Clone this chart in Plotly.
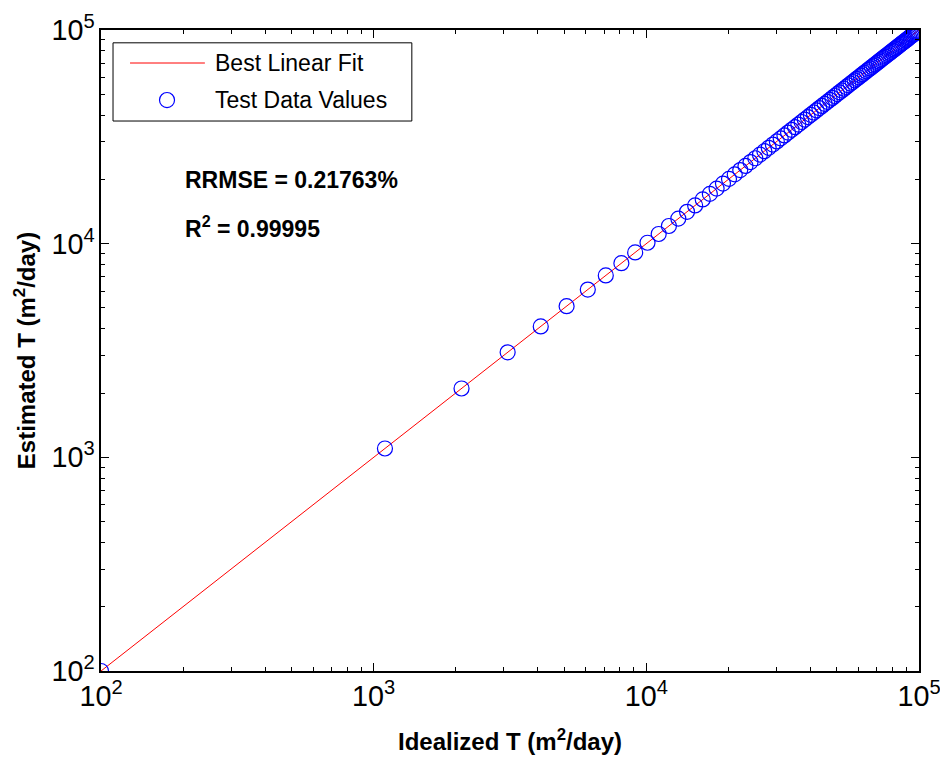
import plotly.graph_objects as go

# Idealized vs. estimated transmissivity (m^2/day)
idealized_T = [
    100, 1100, 2100, 3100, 4100, 5100, 6100, 7100, 8100, 9100,
    10100, 11100, 12100, 13100, 14100, 15100, 16100, 17100, 18100, 19100,
    20100, 21100, 22100, 23100, 24100, 25100, 26100, 27100, 28100, 29100,
    30100, 31100, 32100, 33100, 34100, 35100, 36100, 37100, 38100, 39100,
    40100, 41100, 42100, 43100, 44100, 45100, 46100, 47100, 48100, 49100,
    50100, 51100, 52100, 53100, 54100, 55100, 56100, 57100, 58100, 59100,
    60100, 61100, 62100, 63100, 64100, 65100, 66100, 67100, 68100, 69100,
    70100, 71100, 72100, 73100, 74100, 75100, 76100, 77100, 78100, 79100,
    80100, 81100, 82100, 83100, 84100, 85100, 86100, 87100, 88100, 89100,
    90100, 91100, 92100, 93100, 94100, 95100, 96100, 97100, 98100, 99100,
]
estimated_T = [
    100, 1100, 2100, 3100, 4100, 5100, 6100, 7100, 8100, 9100,
    10100, 11100, 12100, 13100, 14100, 15100, 16100, 17100, 18100, 19100,
    20100, 21100, 22100, 23100, 24100, 25100, 26100, 27100, 28100, 29100,
    30100, 31100, 32100, 33100, 34100, 35100, 36100, 37100, 38100, 39100,
    40100, 41100, 42100, 43100, 44100, 45100, 46100, 47100, 48100, 49100,
    50100, 51100, 52100, 53100, 54100, 55100, 56100, 57100, 58100, 59100,
    60100, 61100, 62100, 63100, 64100, 65100, 66100, 67100, 68100, 69100,
    70100, 71100, 72100, 73100, 74100, 75100, 76100, 77100, 78100, 79100,
    80100, 81100, 82100, 83100, 84100, 85100, 86100, 87100, 88100, 89100,
    90100, 91100, 92100, 93100, 94100, 95100, 96100, 97100, 98100, 99100,
]

# End points of the fitted line
fit_x = [100, 100000]
fit_y = [100, 100000]

legend_labels = ["Best Linear Fit", "Test Data Values"]
rrmse_text = "RRMSE = 0.21763%"
r2_text = "R<sup>2</sup> = 0.99995"

FONT = "Liberation Sans, Arial, sans-serif"
RED = "rgb(255,0,0)"
BLUE = "rgb(0,0,255)"

fig = go.Figure()
fig.add_trace(go.Scatter(
    x=fit_x, y=fit_y, mode="lines", name=legend_labels[0],
    line=dict(color=RED, width=1), showlegend=False,
))
fig.add_trace(go.Scatter(
    x=idealized_T, y=estimated_T, mode="markers", name=legend_labels[1],
    marker=dict(symbol="circle-open", size=15, color=BLUE,
                line=dict(width=1.2, color=BLUE)),
    showlegend=False,
))

axis_common = dict(
    type="log",
    range=[2, 5],
    dtick=1,
    exponentformat="power",
    showexponent="all",
    showgrid=False,
    zeroline=False,
    showline=True,
    linecolor="black",
    linewidth=1.5,
    mirror="allticks",
    ticks="inside",
    ticklen=8,
    tickwidth=1,
    tickcolor="black",
    automargin=False,
    ticklabeloverflow="allow",
    tickfont=dict(family=FONT, size=23, color="black"),
    minor=dict(ticks="inside", ticklen=4, tickwidth=1, tickcolor="black", showgrid=False),
)

fig.update_xaxes(
    **axis_common,
    title=dict(text="<b>Idealized T (m<sup>2</sup>/day)</b>",
               font=dict(family=FONT, size=24, color="black"), standoff=22),
)
fig.update_yaxes(
    **axis_common,
    title=dict(text="<b>Estimated T (m<sup>2</sup>/day)</b>",
               font=dict(family=FONT, size=24, color="black"), standoff=9),
)

# Statistics text
fig.add_annotation(
    x=0.1, y=0.766, xref="paper", yref="paper", xanchor="left", yanchor="middle",
    text=f"<b>{rrmse_text}</b>", showarrow=False,
    font=dict(family=FONT, size=23, color="black"),
)
fig.add_annotation(
    x=0.1, y=0.692, xref="paper", yref="paper", xanchor="left", yanchor="middle",
    text=f"<b>{r2_text}</b>", showarrow=False,
    font=dict(family=FONT, size=23, color="black"),
)

# Legend box drawn in paper coordinates
fig.add_shape(type="rect", xref="paper", yref="paper",
              x0=0.0147, x1=0.380, y0=0.858, y1=0.980,
              line=dict(color="black", width=1), fillcolor="white", layer="above")
fig.add_shape(type="line", xref="paper", yref="paper",
              x0=0.0355, x1=0.127, y0=0.9485, y1=0.9485,
              line=dict(color=RED, width=1), layer="above")
fig.add_shape(type="circle", xref="paper", yref="paper",
              x0=0.0715, x1=0.0899, y0=0.879, y1=0.9025,
              line=dict(color=BLUE, width=1.2), layer="above")
for label, ypos in zip(legend_labels, [0.9485, 0.8908]):
    fig.add_annotation(
        x=0.137, y=ypos, xref="paper", yref="paper", xanchor="left", yanchor="middle",
        text=label, showarrow=False,
        font=dict(family=FONT, size=23, color="black"),
    )

fig.update_layout(
    width=940, height=759,
    margin=dict(l=101, r=21, t=30, b=88),
    paper_bgcolor="white",
    plot_bgcolor="white",
    showlegend=False,
)

fig.write_html("out.html")
